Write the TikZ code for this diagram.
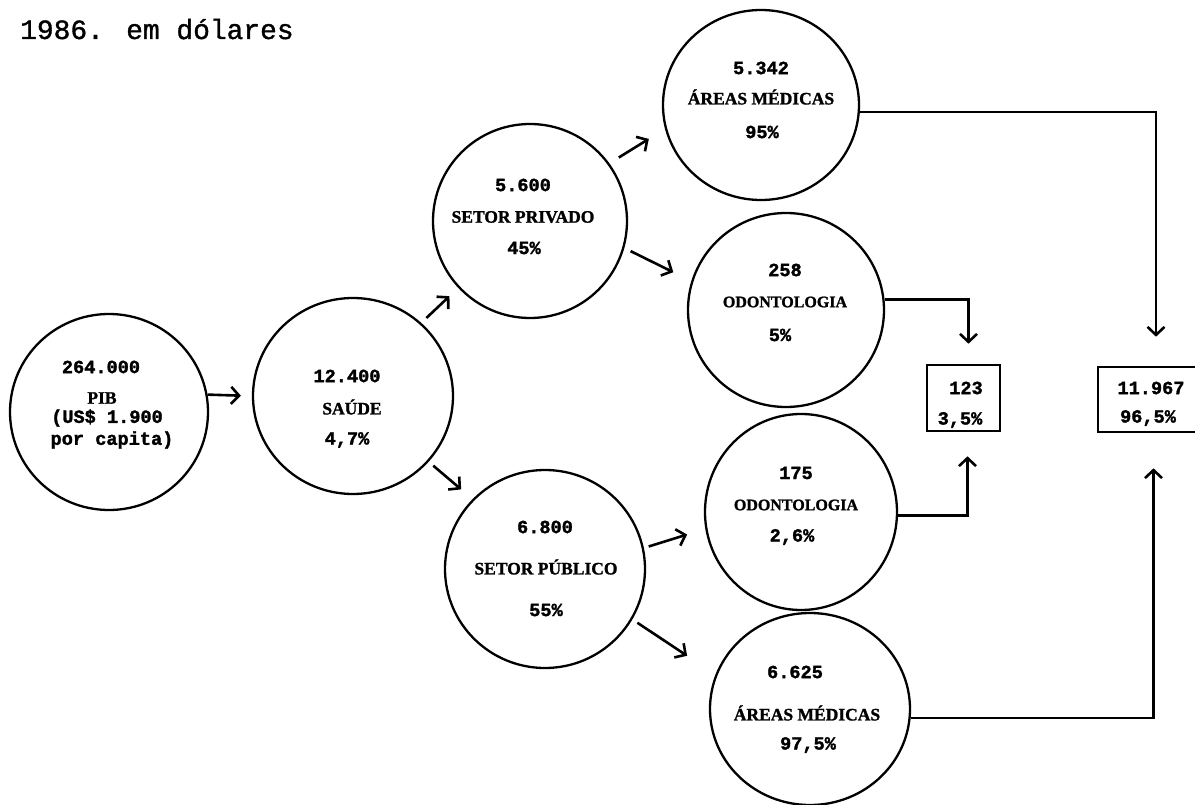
\documentclass[tikz,border=0pt]{standalone}
\usepackage{fontspec}
\setmainfont{Liberation Serif}[BoldFeatures={FakeBold=1.3}]
\newfontfamily\monof{Liberation Mono}[BoldFeatures={FakeBold=1.6}]
\newfontfamily\monot{Liberation Mono}[FakeBold=1.2]
\usetikzlibrary{arrows.meta,shapes.geometric,calc}
\begin{document}
\begin{tikzpicture}[x=1pt,y=-1pt,
  circ/.style={draw,ellipse,line width=2.3pt,inner sep=0pt},
  arr/.style={line width=2.6pt,-{Straight Barb[length=8pt,width=17pt,line width=2.6pt]}},
  boxn/.style={draw,rectangle,line width=2.6pt,inner sep=0pt},
  num/.style={font=\monof\bfseries\fontsize{18.6}{20}\selectfont,inner sep=0pt},
  capl/.style={font=\bfseries\fontsize{17.5}{19}\selectfont,inner sep=0pt},
  capo/.style={font=\bfseries\fontsize{16}{18}\selectfont,inner sep=0pt},
  ttl/.style={font=\monot\fontsize{27.9}{30}\selectfont,inner sep=0pt,anchor=base west},
]
\useasboundingbox (0,0) rectangle (1195,805);

% title
\node[ttl] (title) at (20,39) {1986. em dólares};

% circles
\node[circ,minimum width=198pt,minimum height=196pt] (pib)   at (109,412) {};
\node[circ,minimum width=200pt,minimum height=196pt] (saude) at (353,396) {};
\node[circ,minimum width=194pt,minimum height=194pt] (priv)  at (530,221) {};
\node[circ,minimum width=200pt,minimum height=198pt] (pub)   at (545,569) {};
\node[circ,minimum width=196pt,minimum height=190pt] (am1)   at (761,105) {};
\node[circ,minimum width=196pt,minimum height=194pt] (od1)   at (786,310) {};
\node[circ,minimum width=192pt,minimum height=196pt] (od2)   at (801,512) {};
\node[circ,minimum width=200pt,minimum height=192pt] (am2)   at (810,709) {};

% boxes
\node[boxn,minimum width=73pt,minimum height=66pt] (b1) at (963.5,398) {};
\node[boxn,minimum width=101pt,minimum height=65pt] (b2) at (1148.5,399.5) {};

% texts
\node[num]  (pibv) at (101,367) {264.000};
\node[capl] (pibl) at (102,398) {PIB};
\node[num]  (pibu) at (107,418) {(US\$ 1.900};
\node[num]  (pibc) at (112,440) {por capita)};

\node[num]  (sav) at (347,376) {12.400};
\node[capl] (sal) at (352,407) {SAÚDE};
\node[num]  (sap) at (347,440) {4,7\%};

\node[num]  (prv) at (523,185) {5.600};
\node[capl] (prl) at (523,217) {SETOR PRIVADO};
\node[num]  (prp) at (524,248) {45\%};

\node[num]  (puv) at (545,527) {6.800};
\node[capl] (pul) at (546,567) {SETOR PÚBLICO};
\node[num]  (pup) at (546,610) {55\%};

\node[num]  (a1v) at (761,68) {5.342};
\node[capl] (a1l) at (761,97) {ÁREAS MÉDICAS};
\node[num]  (a1p) at (762,132) {95\%};

\node[num]  (o1v) at (785,270) {258};
\node[capo] (o1l) at (785,302) {ODONTOLOGIA};
\node[num]  (o1p) at (780,335) {5\%};

\node[num]  (o2v) at (796,473) {175};
\node[capo] (o2l) at (796,505) {ODONTOLOGIA};
\node[num]  (o2p) at (792,537) {2,6\%};

\node[num]  (a2v) at (795,672) {6.625};
\node[capl] (a2l) at (807,713) {ÁREAS MÉDICAS};
\node[num]  (a2p) at (808,745) {97,5\%};

\node[num]  (b1v) at (966,388) {123};
\node[num]  (b1p) at (960,420) {3,5\%};
\node[num]  (b2v) at (1151,388) {11.967};
\node[num]  (b2p) at (1148,418) {96,5\%};

% arrows
\draw[arr,shorten >=11pt] (pib.10) -- (saude.180);
\draw[arr,shorten <=7pt,shorten >=12pt] (saude.47) -- (priv.223);
\draw[arr,shorten <=6pt,shorten >=15pt] (saude.319) -- (pub.136);
\draw[arr,shorten <=11pt,shorten >=19pt] (priv.36) -- (am1.194);
\draw[arr,shorten <=7pt,shorten >=20pt] (priv.344) -- (od1.163);
\draw[arr,shorten <=5pt,shorten >=19pt] (pub.12) -- (od2.190);
\draw[arr,shorten <=6pt,shorten >=34pt] (pub.330) -- (am2.160);

\draw[arr] (am1.356) -| ([xshift=7.5pt,yshift=29pt]b2.north);
\draw[arr] (od1.6) -| ([xshift=5pt,yshift=20pt]b1.north);
\draw[arr] (od2.358) -| ([xshift=4pt,yshift=-24pt]b1.south);
\draw[arr] (am2.355) -| ([xshift=5pt,yshift=-35pt]b2.south);
\end{tikzpicture}
\end{document}
